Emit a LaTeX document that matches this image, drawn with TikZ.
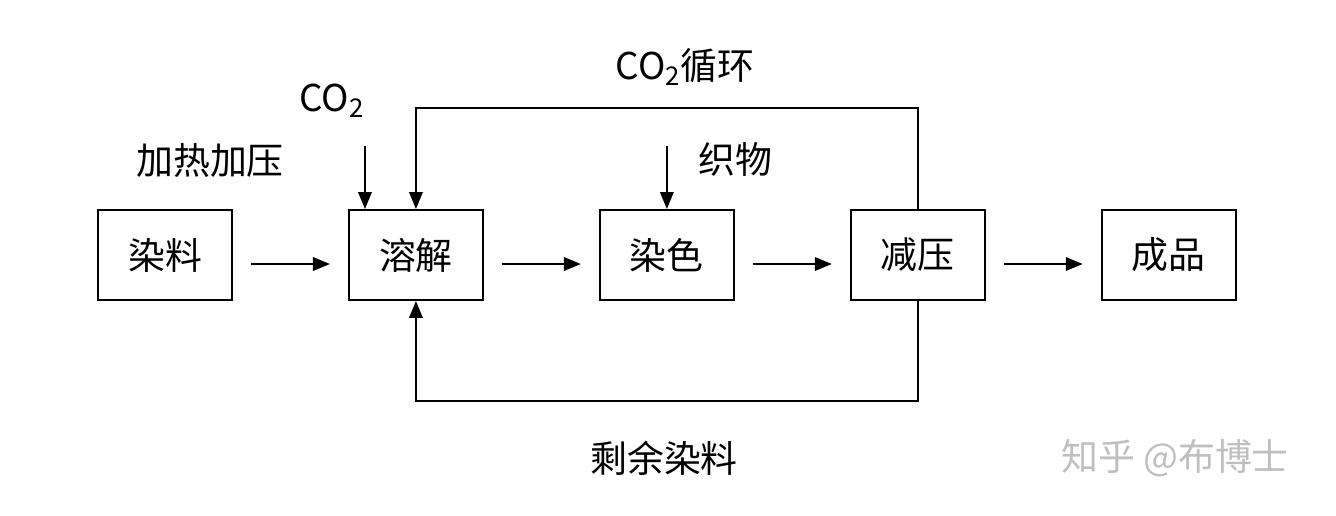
\documentclass[tikz,border=0pt]{standalone}
\usepackage{fontspec}
\setmainfont{Noto Sans CJK SC}
\usepackage{tikz}
\usetikzlibrary{arrows.meta, positioning}

\begin{document}
\begin{tikzpicture}[
      node distance=2.3cm,
      box/.style={draw, line width=1.1pt, minimum width=2.68cm, minimum height=1.8cm, inner sep=0pt, font=\fontsize{21}{25}\selectfont},
      lbl/.style={inner sep=0pt, font=\fontsize{21}{25}\selectfont},
      arr/.style={line width=1.1pt, -{Triangle[length=3.4mm,width=2.7mm]}}
    ]
      \useasboundingbox (0,0) rectangle (26.72,-10.3);

      \node[box] (rl) at (3.3,-5.1) {染料};
      \node[box, right=of rl] (rj) {溶解};
      \node[box, right=of rj] (rs) {染色};
      \node[box, right=of rs] (jy) {减压};
      \node[box, right=of jy] (cp) {成品};

      % main line
      \foreach \a/\b in {rl/rj, rj/rs, rs/jy, jy/cp}
        \draw[arr] ([xshift=0.36cm, yshift=-0.18cm]\a.east) -- ([xshift=-0.36cm, yshift=-0.18cm]\b.west);

      % inputs
      \coordinate (co2in) at ([xshift=0.34cm, yshift=1.26cm]rj.north west);
      \draw[arr] (co2in) -- ([xshift=0.34cm]rj.north west);
      \node[lbl] (co2) at (6.64,-2.02) {CO\textsubscript{2}};
      \node[lbl] (jr) at (4.2,-3.22) {加热加压};

      \coordinate (zwin) at ([yshift=1.26cm]rs.north);
      \draw[arr] (zwin) -- (rs.north);
      \node[lbl, anchor=west] (zw) at ([xshift=0.62cm, yshift=-0.26cm]zwin) {织物};

      % loops
      \draw[arr] (jy.north) -- ++(0,2.02) -| (rj.north);
      \node[lbl] (xh) at (13.7,-1.34) {CO\textsubscript{2}循环};

      \draw[arr] (jy.south) -- ++(0,-2.0) -| (rj.south);
      \node[lbl] (sy) at (13.28,-9.16) {剩余染料};

      \node[lbl, text=black!25] (wm) at (23.5,-9.16) {知乎 @布博士};
    \end{tikzpicture}
\end{document}
